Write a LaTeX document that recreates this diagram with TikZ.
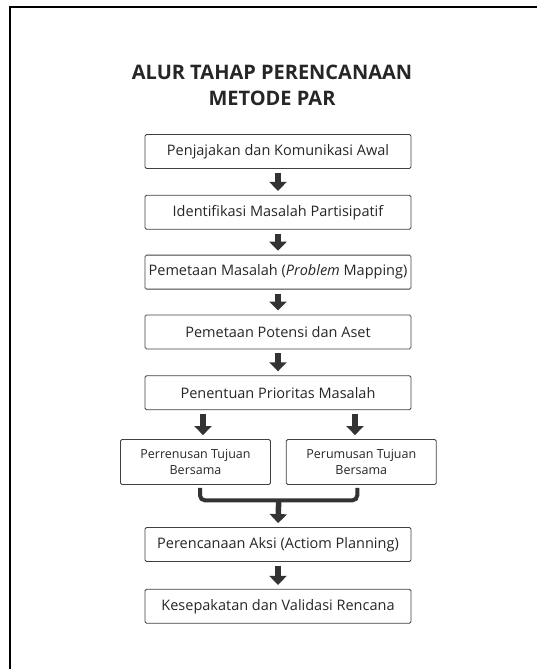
\documentclass[tikz,border=0pt]{standalone}
\usepackage{fontspec}
\setmainfont{Open Sans}
\usetikzlibrary{arrows.meta}
\usetikzlibrary{positioning}

\begin{document}
\begin{tikzpicture}
    [stage/.style={rectangle, draw=black!75, thick, rounded corners=1.5pt, minimum height=34pt, minimum width=266pt, text=black!85, font=\fontsize{14.5}{17}\selectfont},
     half/.style={stage, minimum height=45pt, minimum width=150pt, align=center, font=\fontsize{12.5}{16}\selectfont},
     flow/.style={draw=black!80, line width=5.5pt, -{Triangle[length=9pt, width=17pt]}, shorten >=4pt, shorten <=4pt},
     brace/.style={draw=black!80, line width=4pt, rounded corners=5pt}]

    \useasboundingbox (0,0) rectangle (537pt,-669pt);
    \draw [line width=2pt] (10pt,-669pt) -- (10pt,-7pt) -- (537pt,-7pt);

    \node [align=center, text=black!85, font=\bfseries\fontsize{20}{26}\selectfont] (title) at (272pt,-85pt) {ALUR TAHAP PERENCANAAN\\METODE PAR};

    \node [stage] (s1) at (278pt,-151.5pt) {Penjajakan dan Komunikasi Awal};
    \node [stage, below=26pt of s1] (s2) {Identifikasi Masalah Partisipatif};
    \draw [flow] (s1.south) -- (s2.north);
    \node [stage, below=25pt of s2] (s3) {Pemetaan Masalah (\textit{Problem} Mapping)};
    \draw [flow] (s2.south) -- (s3.north);
    \node [stage, below=25pt of s3] (s4) {Pemetaan Potensi dan Aset};
    \draw [flow] (s3.south) -- (s4.north);
    \node [stage, below=26pt of s4] (s5) {Penentuan Prioritas Masalah};
    \draw [flow] (s4.south) -- (s5.north);

    \node [half, below=29pt of s5.south, xshift=-82.5pt] (h1) {Perrenusan Tujuan\\Bersama};
    \node [half, right=15pt of h1] (h2) {Perumusan Tujuan\\Bersama};
    \draw [flow] ([xshift=-75pt] s5.south) -- ([xshift=-75pt] s5.south |- h1.north);
    \draw [flow] ([xshift=77pt] s5.south) -- ([xshift=77pt] s5.south |- h2.north);

    \draw [brace] ([xshift=4.5pt, yshift=-3pt] h1.south) -- ++(0,-12.5pt) -| node [coordinate, pos=0.25] (join) {} ([xshift=-4pt, yshift=-3pt] h2.south);

    \node [stage, below=117pt of s5] (s7) {Perencanaan Aksi (Actiom Planning)};
    \draw [flow, shorten <=0pt] (join) -- (s7.north);
    \node [stage, below=27pt of s7] (s8) {Kesepakatan dan Validasi Rencana};
    \draw [flow] (s7.south) -- (s8.north);
\end{tikzpicture}
\end{document}
